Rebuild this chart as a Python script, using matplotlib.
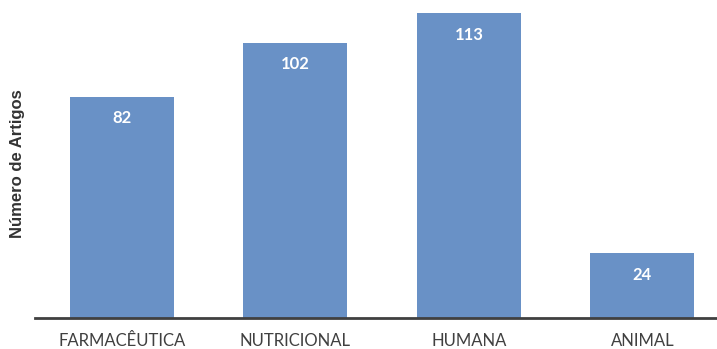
import matplotlib
matplotlib.use("Agg")
import matplotlib.pyplot as plt

categorias = ["FARMACÊUTICA", "NUTRICIONAL", "HUMANA", "ANIMAL"]
artigos = [82, 102, 113, 24]

fig = plt.figure(figsize=(7.17, 3.49), dpi=100)
ax = fig.add_axes([35/717, 31/349, 1 - 35/717, 305/349])

x = range(len(categorias))
barras = ax.bar(x, artigos, width=0.6, color="#6991C6", clip_on=False)

for xi, v in zip(x, artigos):
    ax.text(xi, v - 8, str(v), ha="center", va="center", color="white",
            fontsize=12, fontweight="bold", family="Lato")

ax.set_xlim(-0.5, 3.43)
ax.set_ylim(0, 113)
ax.set_xticks(list(x))
ax.set_xticklabels(categorias, fontsize=12, color="#404040", family="Lato")
ax.tick_params(axis="x", length=0, pad=11)
ax.set_yticks([])

for s in ["top", "right", "left"]:
    ax.spines[s].set_visible(False)
ax.spines["bottom"].set_color("#404040")
ax.spines["bottom"].set_linewidth(2)

fig.text(18/717, 0.53, "Número de Artigos", rotation=90, ha="center", va="center",
         fontsize=12, fontweight="bold", color="#333333", family="Liberation Sans")

fig.savefig("out.png", dpi=100)
